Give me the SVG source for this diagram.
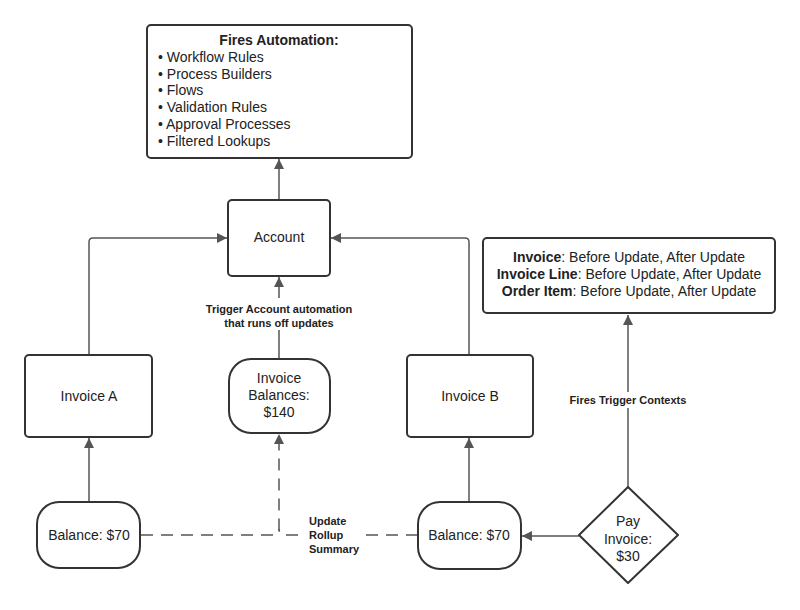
<svg xmlns="http://www.w3.org/2000/svg" width="800" height="610" viewBox="0 0 800 610">
<defs>
<style>
.box{fill:#fff;stroke:#333;stroke-width:2}
.t{font-family:"Liberation Sans",Arial,sans-serif;font-size:14px;fill:#222}
.c{text-anchor:middle}
.b{font-weight:bold}
.lbl{font-family:"Liberation Sans",Arial,sans-serif;font-size:11px;font-weight:bold;fill:#222}
.ln{fill:none;stroke:#555;stroke-width:1.5}
.dash{stroke-dasharray:12,8}
</style>
<marker id="ah" viewBox="0 0 10 10" refX="10" refY="5" markerWidth="10" markerHeight="10" markerUnits="userSpaceOnUse" orient="auto">
<path d="M0,0 L10,5 L0,10 z" fill="#555"/>
</marker>
</defs>
<rect width="800" height="610" fill="#fff"/>
<g id="connectors">
<path class="ln" d="M279,200 V159" marker-end="url(#ah)"/>
<path class="ln" d="M89,355 V242 Q89,238 93,238 H227" marker-end="url(#ah)"/>
<path class="ln" d="M469,355 V242 Q469,238 465,238 H331" marker-end="url(#ah)"/>
<path class="ln" d="M279,359 V277" marker-end="url(#ah)"/>
<path class="ln" d="M89,502 V438" marker-end="url(#ah)"/>
<path class="ln" d="M469,502 V438" marker-end="url(#ah)"/>
<path class="ln" d="M579,536 H522" marker-end="url(#ah)"/>
<path class="ln" d="M628,487 V315" marker-end="url(#ah)"/>
<path class="ln dash" d="M141,535 H273 Q279,535 279,529 V434" marker-end="url(#ah)"/>
<path class="ln dash" d="M418,535 H285 Q279,535 279,529"/>
<rect x="200" y="298" width="158" height="32" fill="#fff"/>
<text class="lbl c" x="279" y="313">Trigger Account automation</text>
<text class="lbl c" x="279" y="327">that runs off updates</text>
<rect x="305" y="512" width="60" height="42" fill="#fff"/>
<text class="lbl" x="309" y="525">Update</text>
<text class="lbl" x="309" y="539">Rollup</text>
<text class="lbl" x="309" y="553">Summary</text>
<rect x="566" y="392" width="124" height="16" fill="#fff"/>
<text class="lbl c" x="628" y="404">Fires Trigger Contexts</text>
</g>
<g id="fires-automation">
<rect class="box" x="147" y="25" width="265" height="133" rx="4"/>
<text class="t c b" x="279" y="45">Fires Automation:</text>
<text class="t" x="158" y="62">• Workflow Rules</text>
<text class="t" x="158" y="79">• Process Builders</text>
<text class="t" x="158" y="95">• Flows</text>
<text class="t" x="158" y="112">• Validation Rules</text>
<text class="t" x="158" y="129">• Approval Processes</text>
<text class="t" x="158" y="146">• Filtered Lookups</text>
</g>
<g id="account">
<rect class="box" x="228" y="200" width="102" height="76" rx="4"/>
<text class="t c" x="279" y="242">Account</text>
</g>
<g id="trigger-contexts">
<rect class="box" x="483" y="238" width="292" height="75" rx="4"/>
<text class="t c" x="629" y="262"><tspan class="b">Invoice</tspan>: Before Update, After Update</text>
<text class="t c" x="629" y="279"><tspan class="b">Invoice Line</tspan>: Before Update, After Update</text>
<text class="t c" x="629" y="296"><tspan class="b">Order Item</tspan>: Before Update, After Update</text>
</g>
<g id="invoice-a">
<rect class="box" x="25" y="355" width="127" height="82" rx="4"/>
<text class="t c" x="89" y="401">Invoice A</text>
</g>
<g id="invoice-b">
<rect class="box" x="407" y="355" width="126" height="82" rx="4"/>
<text class="t c" x="470" y="401">Invoice B</text>
</g>
<g id="invoice-balances">
<rect class="box" x="229" y="359" width="101" height="74" rx="22"/>
<text class="t c" x="279" y="383">Invoice</text>
<text class="t c" x="279" y="400">Balances:</text>
<text class="t c" x="279" y="417">$140</text>
</g>
<g id="balance-a">
<rect class="box" x="37" y="502" width="103" height="66" rx="22"/>
<text class="t c" x="89" y="540">Balance: $70</text>
</g>
<g id="balance-b">
<rect class="box" x="418" y="502" width="103" height="67" rx="22"/>
<text class="t c" x="469" y="540">Balance: $70</text>
</g>
<g id="pay-invoice">
<path class="box" d="M628,487 L678,535 L628,583 L579,535 Z" stroke-linejoin="round"/>
<text class="t c" x="628" y="526">Pay</text>
<text class="t c" x="628" y="544">Invoice:</text>
<text class="t c" x="628" y="561">$30</text>
</g>
</svg>
